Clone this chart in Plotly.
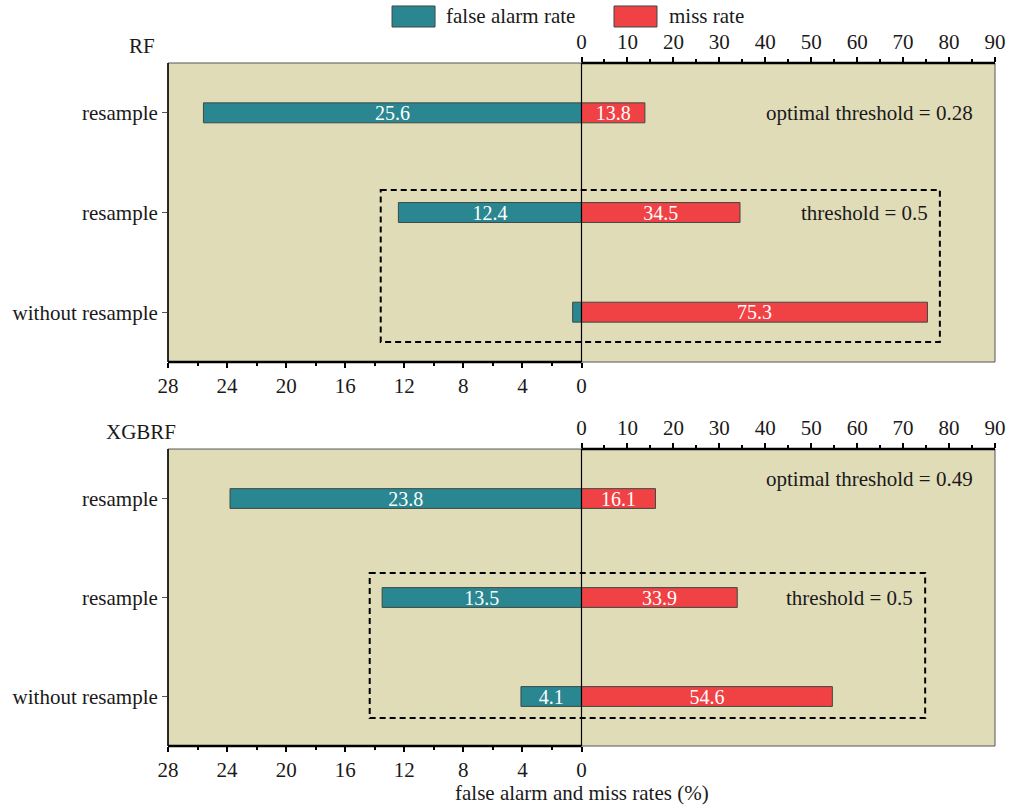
import plotly.graph_objects as go

# Rows (top to bottom) and tick labels
rows = [0, 1, 2]
row_labels = ["resample", "resample", "without resample"]

# Random forest results (%)
rf_false_alarm = [25.6, 12.4, 0.6]
rf_miss = [13.8, 34.5, 75.3]

# XGBoost random forest results (%)
xgb_false_alarm = [23.8, 13.5, 4.1]
xgb_miss = [16.1, 33.9, 54.6]

far_ticks = [0, 4, 8, 12, 16, 20, 24, 28]
miss_ticks = [0, 10, 20, 30, 40, 50, 60, 70, 80, 90]

TEAL = "#2a8690"
RED = "#f04144"
BG = "#e1dcb8"
EDGE = "#3d4a45"
FONT = "Liberation Serif"
INK = "#1a1a1a"

fig = go.Figure()


def labels(vals):
    return [f"{v:.1f}" if v >= 1 else "" for v in vals]


def add_panel(far, miss, xa_far, xa_miss, ya):
    fig.add_trace(go.Bar(
        x=far, y=rows, orientation="h", width=0.2,
        marker=dict(color=TEAL, line=dict(color=EDGE, width=1)),
        text=labels(far), textposition="inside", insidetextanchor="middle",
        textfont=dict(family=FONT, size=20, color="white"),
        xaxis=xa_far, yaxis=ya, showlegend=False, name="false alarm rate",
    ))
    fig.add_trace(go.Bar(
        x=miss, y=rows, orientation="h", width=0.2,
        marker=dict(color=RED, line=dict(color=EDGE, width=1)),
        text=labels(miss), textposition="inside", insidetextanchor="middle",
        textfont=dict(family=FONT, size=20, color="white"),
        xaxis=xa_miss, yaxis=ya, showlegend=False, name="miss rate",
    ))


add_panel(rf_false_alarm, rf_miss, "x", "x2", "y")
add_panel(xgb_false_alarm, xgb_miss, "x3", "x4", "y2")

TOP_DOM = [0.5622, 1.0]
BOT_DOM = [0.0, 0.4348]

tickfont = dict(family=FONT, size=21, color=INK)


def far_axis(anchor):
    return dict(
        anchor=anchor, side="bottom", range=[28, -28], domain=[0, 1],
        tickmode="array", tickvals=far_ticks, ticktext=[str(t) for t in far_ticks],
        ticks="outside", ticklen=5, tickwidth=1.5, tickcolor="black",
        minor=dict(tickvals=[2, 6, 10, 14, 18, 22, 26], ticks="outside",
                   ticklen=3, tickwidth=1.5, tickcolor="black"),
        showgrid=False, zeroline=False, showline=False, automargin=False,
        tickfont=tickfont, fixedrange=True,
    )


def miss_axis(anchor, over):
    return dict(
        anchor=anchor, overlaying=over, side="top", range=[-90, 90], domain=[0, 1],
        tickmode="array", tickvals=miss_ticks, ticktext=[str(t) for t in miss_ticks],
        ticks="outside", ticklen=5, tickwidth=1.5, tickcolor="black",
        minor=dict(tickvals=[5, 15, 25, 35, 45, 55, 65, 75, 85], ticks="outside",
                   ticklen=3, tickwidth=1.5, tickcolor="black"),
        showgrid=False, zeroline=False, showline=False, automargin=False,
        tickfont=tickfont, fixedrange=True,
    )


def row_axis(anchor, dom):
    return dict(
        anchor=anchor, domain=dom, range=[2.5, -0.5],
        tickmode="array", tickvals=rows, ticktext=row_labels,
        ticks="outside", ticklen=5, tickwidth=1, tickcolor="#555",
        showgrid=False, zeroline=False, showline=False, automargin=False,
        tickfont=tickfont, fixedrange=True,
    )


fig.update_layout(
    template="none",
    width=1011, height=808,
    margin=dict(l=168, r=16, t=63, b=62, autoexpand=False),
    paper_bgcolor="white", plot_bgcolor=BG,
    barmode="overlay",
    uniformtext=dict(minsize=20, mode="show"),
    xaxis=far_axis("y"),
    xaxis2=miss_axis("y", "x"),
    yaxis=row_axis("x", TOP_DOM),
    xaxis3=far_axis("y2"),
    xaxis4=miss_axis("y2", "x3"),
    yaxis2=row_axis("x3", BOT_DOM),
    font=dict(family=FONT, color=INK),
    showlegend=False,
)

shapes = []
for ydom, xa_far in ((TOP_DOM, "x"), (BOT_DOM, "x3")):
    # thin panel frame
    shapes.append(dict(type="rect", xref="paper", yref="paper",
                       x0=0, x1=1, y0=ydom[0], y1=ydom[1],
                       line=dict(color="#555", width=1), layer="above"))
    # left edge
    shapes.append(dict(type="line", xref="paper", yref="paper",
                       x0=0, x1=0, y0=ydom[0], y1=ydom[1],
                       line=dict(color="black", width=1.5), layer="above"))
    # heavy axis line under the false-alarm scale
    shapes.append(dict(type="line", xref="paper", yref="paper",
                       x0=0, x1=0.5, y0=ydom[0], y1=ydom[0],
                       line=dict(color="black", width=2.5), layer="above"))
    # heavy axis line under the miss-rate scale
    shapes.append(dict(type="line", xref="paper", yref="paper",
                       x0=0.5, x1=1, y0=ydom[1], y1=ydom[1],
                       line=dict(color="black", width=2.5), layer="above"))
    # zero line
    shapes.append(dict(type="line", xref=xa_far, yref="paper",
                       x0=0, x1=0, y0=ydom[0], y1=ydom[1],
                       line=dict(color="black", width=1.2), layer="above"))

# dashed boxes around the threshold = 0.5 rows
shapes.append(dict(type="rect", xref="x2", yref="y", x0=-43.7, x1=78.0, y0=0.774, y1=2.30,
                   line=dict(color="black", width=2, dash="6px,4px"), layer="above"))
shapes.append(dict(type="rect", xref="x4", yref="y2", x0=-46.1, x1=74.8, y0=0.752, y1=2.217,
                   line=dict(color="black", width=2, dash="6px,4px"), layer="above"))

# legend swatches
shapes.append(dict(type="rect", xref="paper", yref="paper", x0=0.2709, x1=0.3229,
                   y0=1.0527, y1=1.0835, fillcolor=TEAL, line=dict(color=EDGE, width=1)))
shapes.append(dict(type="rect", xref="paper", yref="paper", x0=0.5393, x1=0.5913,
                   y0=1.0527, y1=1.0835, fillcolor=RED, line=dict(color=EDGE, width=1)))

fig.update_layout(shapes=shapes)

ann_font = dict(family=FONT, size=21, color=INK)
annotations = [
    dict(text="false alarm rate", xref="paper", yref="paper", x=0.3337, y=1.0688,
         xanchor="left", yanchor="middle", showarrow=False, font=ann_font),
    dict(text="miss rate", xref="paper", yref="paper", x=0.6034, y=1.0688,
         xanchor="left", yanchor="middle", showarrow=False, font=ann_font),
    dict(text="RF", xref="paper", yref="paper", x=-0.0314, y=1.0249,
         xanchor="center", yanchor="middle", showarrow=False, font=ann_font),
    dict(text="XGBRF", xref="paper", yref="paper", x=-0.0326, y=0.4597,
         xanchor="center", yanchor="middle", showarrow=False, font=ann_font),
    dict(text="optimal threshold = 0.28", xref="x2", yref="y", x=85.7, y=0,
         xanchor="right", yanchor="middle", showarrow=False, font=ann_font),
    dict(text="threshold = 0.5", xref="x2", yref="y", x=75.9, y=1,
         xanchor="right", yanchor="middle", showarrow=False, font=ann_font),
    dict(text="optimal threshold = 0.49", xref="x4", yref="y2", x=85.7, y=-0.2,
         xanchor="right", yanchor="middle", showarrow=False, font=ann_font),
    dict(text="threshold = 0.5", xref="x4", yref="y2", x=72.6, y=1.0,
         xanchor="right", yanchor="middle", showarrow=False, font=ann_font),
    dict(text="false alarm and miss rates (%)", xref="paper", yref="paper", x=0.5, y=-0.0688,
         xanchor="center", yanchor="middle", showarrow=False, font=ann_font),
]
fig.update_layout(annotations=annotations)

fig.write_html("out.html")
